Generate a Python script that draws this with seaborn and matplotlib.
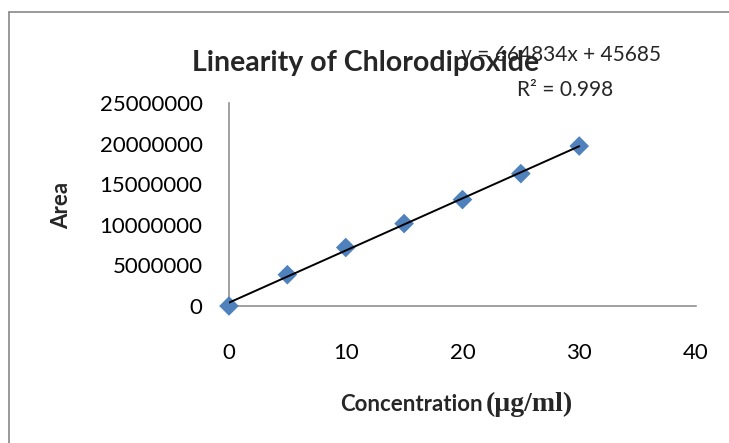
import seaborn as sns
import matplotlib.pyplot as plt
import pandas as pd
from matplotlib.lines import Line2D

# Linearity data
concentration = [0, 5, 10, 15, 20, 25, 30]
area = [0, 3850000, 7200000, 10150000, 13100000, 16300000, 19700000]
x_ticks = [0, 10, 20, 30, 40]
y_ticks = [0, 5000000, 10000000, 15000000, 20000000, 25000000]
equation = 'y = 664834x + 45685'
r_squared = 'R² = 0.998'

df = pd.DataFrame({'Concentration': concentration, 'Area': area})

sns.set_style('white')
plt.rcParams['font.family'] = ['Lato', 'DejaVu Sans']

fig = plt.figure(figsize=(7.29, 4.43), dpi=100)
ax = fig.add_axes([0.3141, 0.3093, 0.6406, 0.4582])

sns.scatterplot(x='Concentration', y='Area', data=df, marker='D', s=100,
                color='#4F81BD', edgecolor='none', ax=ax, zorder=3, clip_on=False)
sns.regplot(x='Concentration', y='Area', data=df, scatter=False, ci=None,
            truncate=True, color='black', line_kws={'lw': 1.4, 'zorder': 4}, ax=ax)

ax.set_xlim(0, 40)
ax.set_ylim(0, 25000000)
ax.set_xticks(x_ticks)
ax.set_yticks(y_ticks)
ax.set_xticklabels([str(v) for v in x_ticks])
ax.set_yticklabels([str(v) for v in y_ticks])
ax.tick_params(axis='both', length=0, labelsize=16, colors='black')
ax.tick_params(axis='y', pad=19)
ax.tick_params(axis='x', pad=27)
ax.set_xlabel('')
ax.set_ylabel('')
ax.patch.set_alpha(0)

sns.despine(ax=ax)
for side in ['left', 'bottom']:
    ax.spines[side].set_color('#868686')
    ax.spines[side].set_linewidth(1.1)
    ax.spines[side].set_zorder(1)

# texts placed like the Excel chart
fig.text(0.501, 0.858, 'Linearity of Chlorodipoxide', ha='center', va='center',
         fontsize=20.5, fontweight='bold')
fig.text(0.770, 0.876, equation, ha='center', va='center', fontsize=15)
fig.text(0.775, 0.797, r_squared, ha='center', va='center', fontsize=15)
fig.text(0.085, 0.537, 'Area', ha='center', va='center', rotation=90,
         fontsize=16, fontweight='bold')
fig.text(0.662, 0.088, 'Concentration', ha='right', va='center',
         fontsize=16, fontweight='bold')
fig.text(0.667, 0.088, '(µg/ml)', ha='left', va='center',
         fontsize=20, fontweight='bold', family='Liberation Serif')

# outer chart border (left and top visible)
fig.add_artist(Line2D([0.0123, 0.0123], [0.0, 0.973], color='#888888', lw=1.2,
                      transform=fig.transFigure))
fig.add_artist(Line2D([0.0123, 1.0], [0.973, 0.973], color='#888888', lw=1.2,
                      transform=fig.transFigure))

fig.savefig('out.png', dpi=100)
